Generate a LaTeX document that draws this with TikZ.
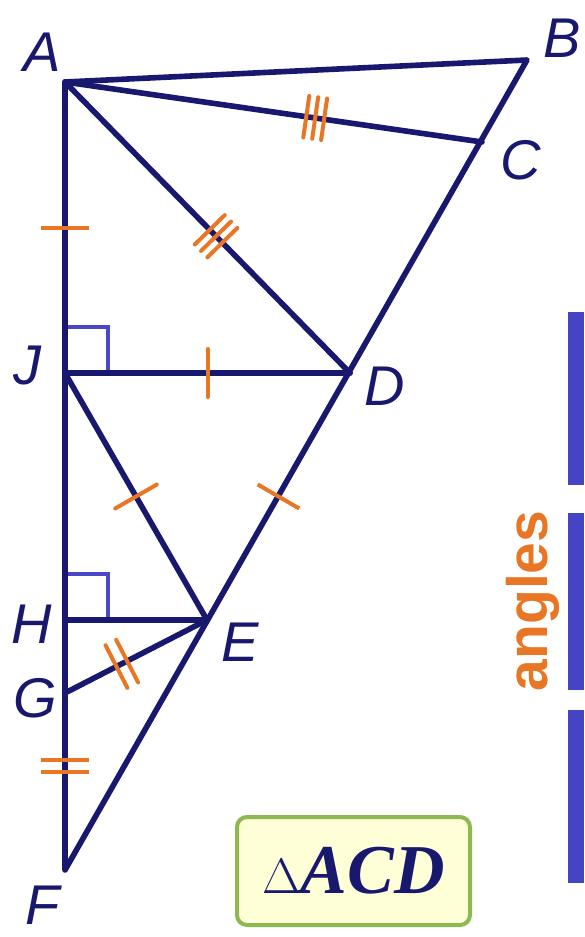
\documentclass[tikz,border=0pt]{standalone}
\usepackage{fontspec}
\setmainfont{Liberation Sans}
\newfontfamily\boxfont{Liberation Serif}
\usetikzlibrary{decorations.markings}

\definecolor{navyline}{RGB}{24,24,110}
\definecolor{tickorange}{RGB}{232,118,36}
\definecolor{angleblue}{RGB}{72,72,200}
\definecolor{sideblue}{RGB}{68,68,196}
\definecolor{boxgreen}{RGB}{140,186,80}
\definecolor{boxfill}{RGB}{255,255,215}

\tikzset{
	seg/.style={draw=navyline, line width=2.8pt, line cap=round, line join=round},
	tickline/.style={draw=tickorange, line width=2pt},
	onetick/.style={postaction={decorate, decoration={markings, mark=at position #1 with {\draw[tickline] (0,-24) -- (0,24);}}}},
	twotick/.style={postaction={decorate, decoration={markings, mark=at position #1 with {\foreach \d in {-6,6} \draw[tickline] (\d,-24) -- (\d,24);}}}},
	threetick/.style={postaction={decorate, decoration={markings, mark=at position #1 with {\foreach \d in {-9,0,9} \draw[tickline] (\d,-21) -- (\d,21);}}}},
	lbl/.style={text=navyline, font=\fontsize{28}{28}\selectfont\itshape, inner sep=0pt},
	rightmark/.style={draw=angleblue, line width=2pt}
}

\begin{document}
\begin{tikzpicture}[x=0.5pt, y=-0.5pt]
	\useasboundingbox (0,0) rectangle (584,937);
	% Points:
	\coordinate (A) at (65,82);
	\coordinate (B) at (527,60);
	\coordinate (C) at (482,142);
	\coordinate (D) at (350,373);
	\coordinate (J) at (65,373);
	\coordinate (H) at (65,620);
	\coordinate (E) at (207,620);
	\coordinate (G) at (65,693);
	\coordinate (F) at (65,870);
	% Right angles:
	\draw[rightmark] (J) ++(0,-46) -- ++(43,0) -- ++(0,46);
	\draw[rightmark] (H) ++(0,-46) -- ++(43,0) -- ++(0,46);
	% Segments:
	\draw[seg] (A) -- (B) -- (F) -- cycle;
	\draw[seg, threetick=0.6] (A) -- (C);
	\draw[seg, threetick=0.53] (A) -- (D);
	\draw[seg, onetick=0.5] (J) -- (D);
	\draw[seg, onetick=0.5] (J) -- (E);
	\draw[seg] (H) -- (E);
	\draw[seg, twotick=0.4] (G) -- (E);
	\path[onetick=0.5] (D) -- (E);
	\path[onetick=0.5] (A) -- (J);
	\path[twotick=0.41] (G) -- (F);
	% Labels:
	\node[lbl] (labA) at (42,52) {A};
	\node[lbl] (labB) at (562,38) {B};
	\node[lbl] (labC) at (521,160) {C};
	\node[lbl] (labD) at (385,386) {D};
	\node[lbl] (labJ) at (27,366) {J};
	\node[lbl] (labH) at (32,624) {H};
	\node[lbl] (labE) at (240,642) {E};
	\node[lbl] (labG) at (35,698) {G};
	\node[lbl] (labF) at (43,905) {F};
	% Side bar:
	\fill[sideblue] (568,312) rectangle (584,485);
	\fill[sideblue] (568,513) rectangle (584,690);
	\fill[sideblue] (568,710) rectangle (584,883);
	\node[rotate=90, text=tickorange, font=\fontsize{28.5}{28.5}\selectfont\bfseries, inner sep=0pt] (angles) at (533,601) {angles};
	% Name box:
	\node[draw=boxgreen, fill=boxfill, line width=2pt, rounded corners=5pt, minimum width=116.5pt, minimum height=54pt, text=navyline, font=\boxfont\fontsize{35}{35}\selectfont] (name) at (353.5,871) {$\Delta$\textbf{\textit{ACD}}};
\end{tikzpicture}
\end{document}
